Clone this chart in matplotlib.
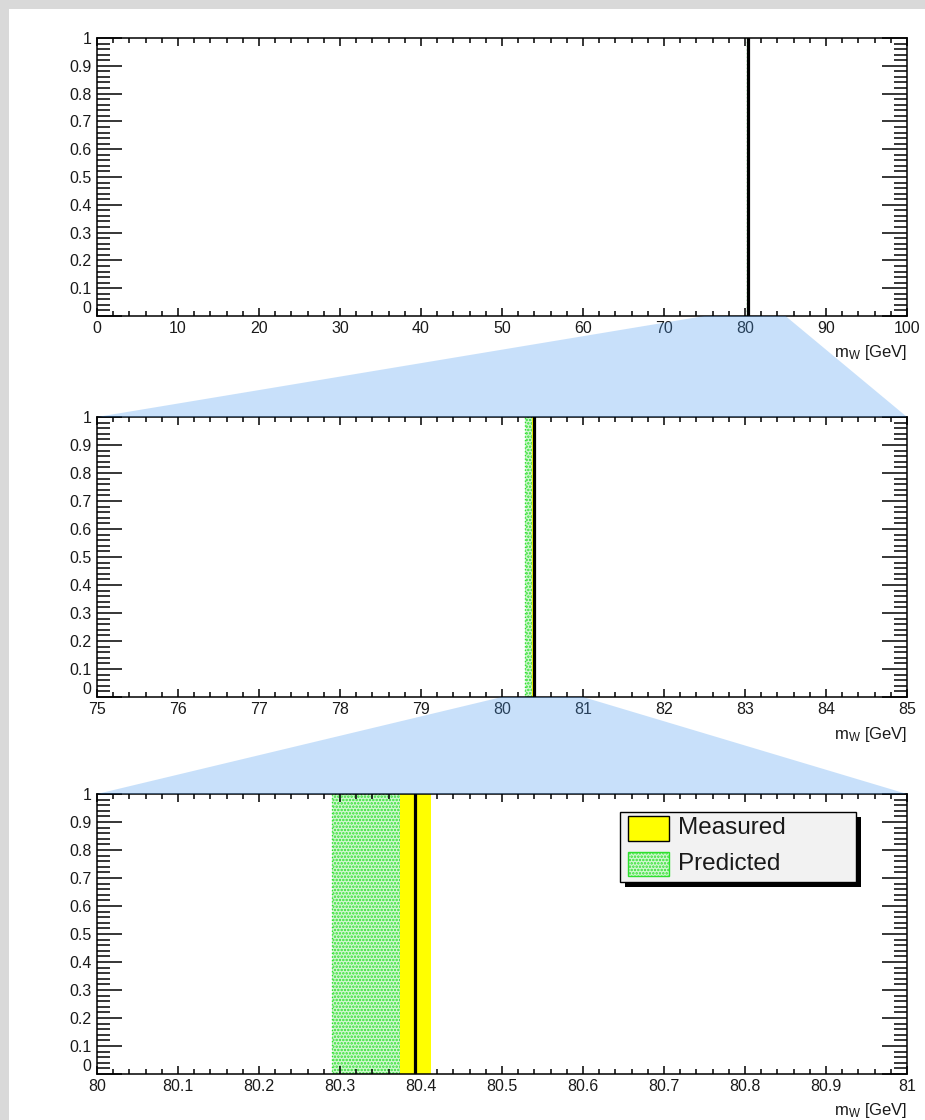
import matplotlib
matplotlib.use('Agg')
import matplotlib.pyplot as plt
from matplotlib.patches import Rectangle, Polygon
from matplotlib.ticker import MultipleLocator, FuncFormatter
import matplotlib.transforms as mtrans

# ---------------- data ----------------
panel_xlims = [(0, 100), (75, 85), (80, 81)]
panel_major = [10, 1, 0.1]
panel_minor = [2, 0.2, 0.02]
measured_center = 80.393
measured_low = 80.374
measured_high = 80.412
predicted_low = 80.290
predicted_high = 80.374
y_limits = (0, 1)
legend_labels = ['Measured', 'Predicted']
x_label = r'm$_\mathrm{W}$ [GeV]'

# ---------------- style ----------------
plt.rcParams['font.family'] = ['Liberation Sans', 'DejaVu Sans']
plt.rcParams['mathtext.fontset'] = 'custom'
plt.rcParams['mathtext.rm'] = 'Liberation Sans'
plt.rcParams['mathtext.it'] = 'Liberation Sans:italic'
plt.rcParams['hatch.linewidth'] = 1.2

W, H = 925, 1120
fig = plt.figure(figsize=(W / 100, H / 100), dpi=100)
fig.patch.set_facecolor('#d9d9d9')
fig.add_artist(Rectangle((9 / W, 0), 1, (H - 9) / H, transform=fig.transFigure,
                         facecolor='white', edgecolor='none', zorder=-10))

# axes positions in pixels (left, top, right, bottom)
pix = [(97, 38, 907, 316), (97, 417, 907, 697), (97, 794, 907, 1074)]
axes = []
for (l, t, r, b) in pix:
    ax = fig.add_axes([l / W, 1 - b / H, (r - l) / W, (b - t) / H])
    axes.append(ax)

fmt = FuncFormatter(lambda v, p: '%g' % round(v, 4))

for i, ax in enumerate(axes):
    ax.set_facecolor('white')
    ax.set_xlim(*panel_xlims[i])
    ax.set_ylim(*y_limits)
    ax.axvspan(predicted_low, predicted_high, facecolor='#d2f7d2', hatch='.....',
               edgecolor='#2ee02e', linewidth=1.0, linestyle=':', zorder=1)
    ax.axvspan(measured_low, measured_high, facecolor='#ffff00', edgecolor='none', zorder=2)
    ax.axvline(measured_center, color='black', linewidth=2.3, zorder=3)

    ax.xaxis.set_major_locator(MultipleLocator(panel_major[i]))
    ax.xaxis.set_minor_locator(MultipleLocator(panel_minor[i]))
    ax.yaxis.set_major_locator(MultipleLocator(0.1))
    ax.yaxis.set_minor_locator(MultipleLocator(0.02))
    ax.xaxis.set_major_formatter(fmt)
    ax.yaxis.set_major_formatter(fmt)

    ax.tick_params(which='both', direction='in', top=True, right=True,
                   width=1.1, color='black', labelsize=11.5, labelcolor='#1a1a1a')
    ax.tick_params(axis='y', which='major', length=18, pad=4)
    ax.tick_params(axis='y', which='minor', length=9.5)
    ax.tick_params(axis='x', which='major', length=5.8, pad=3.5)
    ax.tick_params(axis='x', which='minor', length=3.6)
    for s in ax.spines.values():
        s.set_linewidth(1.1)
        s.set_zorder(6)

    ax.annotate(x_label, xy=(1, 0), xycoords='axes fraction', xytext=(0, -37),
                textcoords='offset pixels', ha='right', va='center', fontsize=12,
                color='#1a1a1a')

# ---------------- zoom trapezoids ----------------
for i in range(2):
    up, low = axes[i], axes[i + 1]
    p = up.get_position()
    q = low.get_position()
    ux0, ux1 = panel_xlims[i]
    lx0, lx1 = panel_xlims[i + 1]
    xa = p.x0 + (lx0 - ux0) / (ux1 - ux0) * p.width
    xb = p.x0 + (lx1 - ux0) / (ux1 - ux0) * p.width
    poly = Polygon([(xa, p.y0), (xb, p.y0), (q.x1, q.y1), (q.x0, q.y1)],
                   closed=True, transform=fig.transFigure, facecolor='#4a9bf0',
                   alpha=0.3, edgecolor='none', zorder=5)
    fig.add_artist(poly)

# ---------------- legend (bottom panel) ----------------
ax = axes[2]
lx0, lx1, ly0, ly1 = 0.646, 0.937, 0.686, 0.936
shadow_tr = mtrans.offset_copy(ax.transAxes, fig=fig, x=5, y=-5, units='dots')
ax.add_patch(Rectangle((lx0, ly0), lx1 - lx0, ly1 - ly0, transform=shadow_tr,
                       facecolor='black', edgecolor='none', zorder=10, clip_on=False))
ax.add_patch(Rectangle((lx0, ly0), lx1 - lx0, ly1 - ly0, transform=ax.transAxes,
                       facecolor='#f2f2f2', edgecolor='black', linewidth=1.0,
                       zorder=11, clip_on=False))
ax.add_patch(Rectangle((0.6556, 0.832), 0.0506, 0.089, transform=ax.transAxes,
                       facecolor='#ffff00', edgecolor='black', linewidth=1.0,
                       zorder=12, clip_on=False))
ax.add_patch(Rectangle((0.6556, 0.707), 0.0506, 0.086, transform=ax.transAxes,
                       facecolor='#d2f7d2', hatch='.....', edgecolor='#2ee02e',
                       linewidth=1.0, zorder=12, clip_on=False))
ax.text(0.717, 0.877, legend_labels[0], transform=ax.transAxes, fontsize=17.5,
        va='center', ha='left', zorder=13, color='#1a1a1a')
ax.text(0.717, 0.750, legend_labels[1], transform=ax.transAxes, fontsize=17.5,
        va='center', ha='left', zorder=13, color='#1a1a1a')

# ROOT-style: the y "0" label sits just above the axis corner
fig.canvas.draw()
for ax in axes:
    for t in ax.yaxis.get_major_ticks():
        if t.label1.get_text() == '0':
            t.label1.set_verticalalignment('bottom')

fig.savefig('out.png', dpi=100, facecolor=fig.get_facecolor())
